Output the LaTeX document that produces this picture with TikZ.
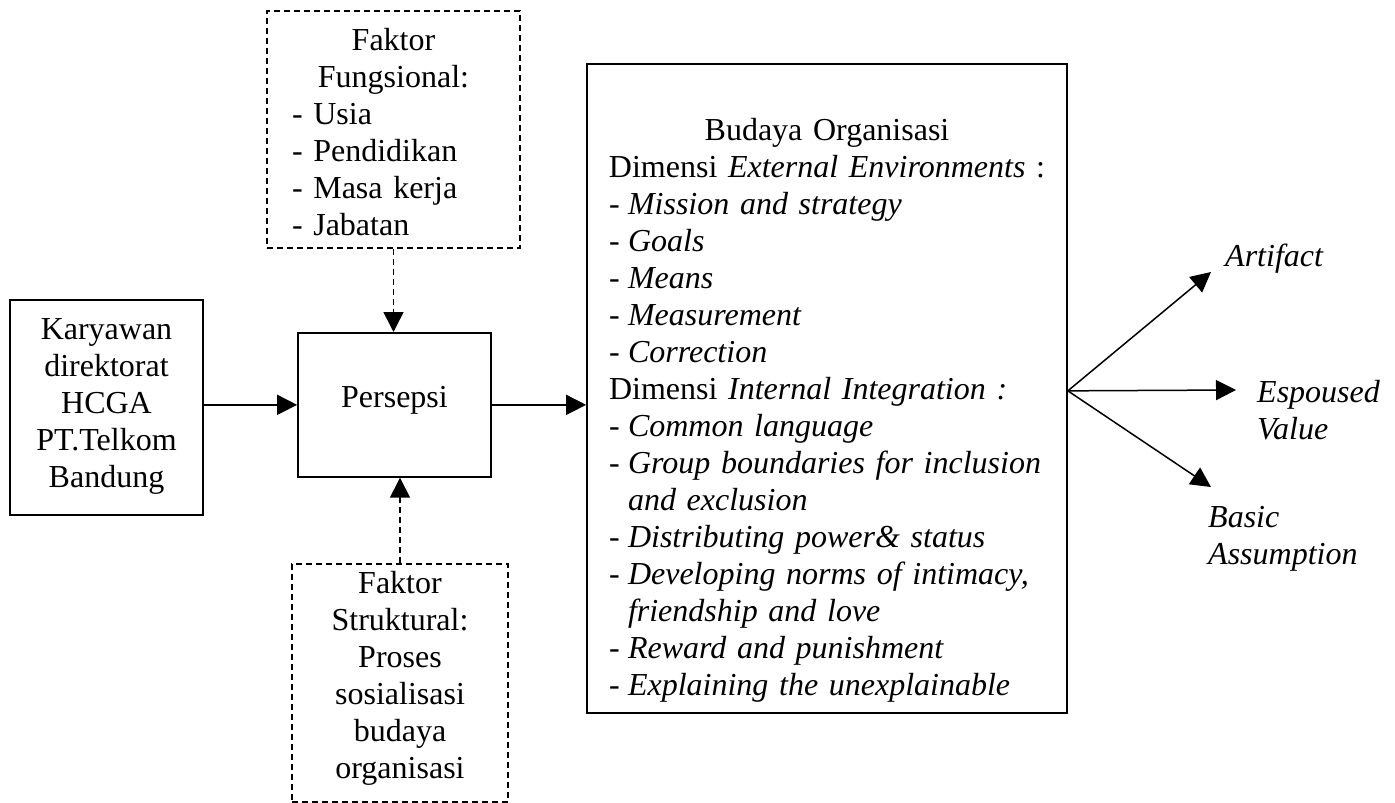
\documentclass[tikz,border=0pt]{standalone}
\usepackage{fontspec}
\setmainfont{Liberation Serif}
\usetikzlibrary{arrows.meta,calc}
\newcommand{\topstrut}[1]{\rule{0pt}{#1}}
\newcommand{\botstrut}[1]{\rule[-#1]{0pt}{#1}}
\newcommand{\litem}[1]{\par\noindent\hangindent=19pt\hangafter=1\makebox[19pt][l]{-}\textit{#1}}
\hyphenpenalty=10000
\exhyphenpenalty=10000
\tolerance=9999
\begin{document}
\begin{tikzpicture}[x=1pt,y=-1pt,
  txt/.style={font=\fontsize{32pt}{37pt}\selectfont, inner ysep=0pt, anchor=north},
  sbox/.style={txt, draw, line width=1.7pt},
  dbox/.style={sbox, line width=1.5pt, dash pattern=on 6pt off 4pt},
  arr/.style={line width=1.5pt, -{Triangle[length=20pt,width=20pt]}},
  darr/.style={arr, dash pattern=on 6pt off 4pt},
  lbl/.style={font=\fontsize{32pt}{37pt}\selectfont\itshape, inner sep=0pt, anchor=west, align=left}]

\useasboundingbox (0,0) rectangle (1395,803);

\node[sbox, inner xsep=5pt, text width=183pt] (kary) at (106.5,299)
  {\centering\topstrut{40pt}Karyawan\\direktorat\\HCGA\\PT.Telkom\\Bandung\botstrut{27pt}\par};

\node[sbox, inner xsep=5pt, text width=183pt] (pers) at (394.5,332)
  {\centering\rule[-69pt]{0pt}{144pt}Persepsi\par};

\node[dbox, inner xsep=25pt, text width=203pt] (ff) at (393.5,10)
  {{\centering\topstrut{40pt}Faktor\\Fungsional:\par}\raggedright - Usia\\- Pendidikan\\- Masa kerja\\- Jabatan\botstrut{12pt}\par};

\node[dbox, inner xsep=5pt, text width=206pt] (fs) at (400,563)
  {\centering\topstrut{30pt}Faktor\\Struktural:\\Proses\\sosialisasi\\budaya\\organisasi\botstrut{23pt}\par};

\node[sbox, inner xsep=22pt, text width=436pt] (bud) at (827,63)
  {\noindent\makebox[\linewidth][c]{\topstrut{77pt}Budaya Organisasi}\par
   \noindent\makebox[\linewidth][c]{Dimensi \textit{External Environments} :}%
   \litem{Mission and strategy}%
   \litem{Goals}%
   \litem{Means}%
   \litem{Measurement}%
   \litem{Correction}%
   \par\noindent Dimensi \textit{Internal Integration :}%
   \litem{Common language}%
   \litem{Group boundaries for inclusion and exclusion}%
   \litem{Distributing power\& status}%
   \litem{Developing norms of intimacy, friendship and love}%
   \litem{Reward and punishment}%
   \litem{Explaining the unexplainable}\botstrut{17pt}\par};

\draw[arr] (kary.east |- pers.west) -- (pers.west);
\draw[arr] (pers.east) -- (pers.east -| bud.west);
\draw[darr] (ff.south) -- (ff.south |- pers.north);
\draw[darr] (fs.north) -- (fs.north |- pers.south);

\coordinate (fan) at ([yshift=-2.5pt]bud.east);
\coordinate (artT) at (1211,272);
\coordinate (espT) at (1236,390);
\coordinate (basT) at (1211,487);

\draw[arr] (fan) -- (artT);
\draw[arr] (fan) -- (espT);
\draw[arr] (fan) -- (basT);

\node[lbl] (art) at (1225,259) {Artifact};
\node[lbl] (esp) at (1257,410.5) {Espoused\\Value};
\node[lbl] (bas) at (1208,538.5) {Basic\\Assumption};
\end{tikzpicture}
\end{document}
